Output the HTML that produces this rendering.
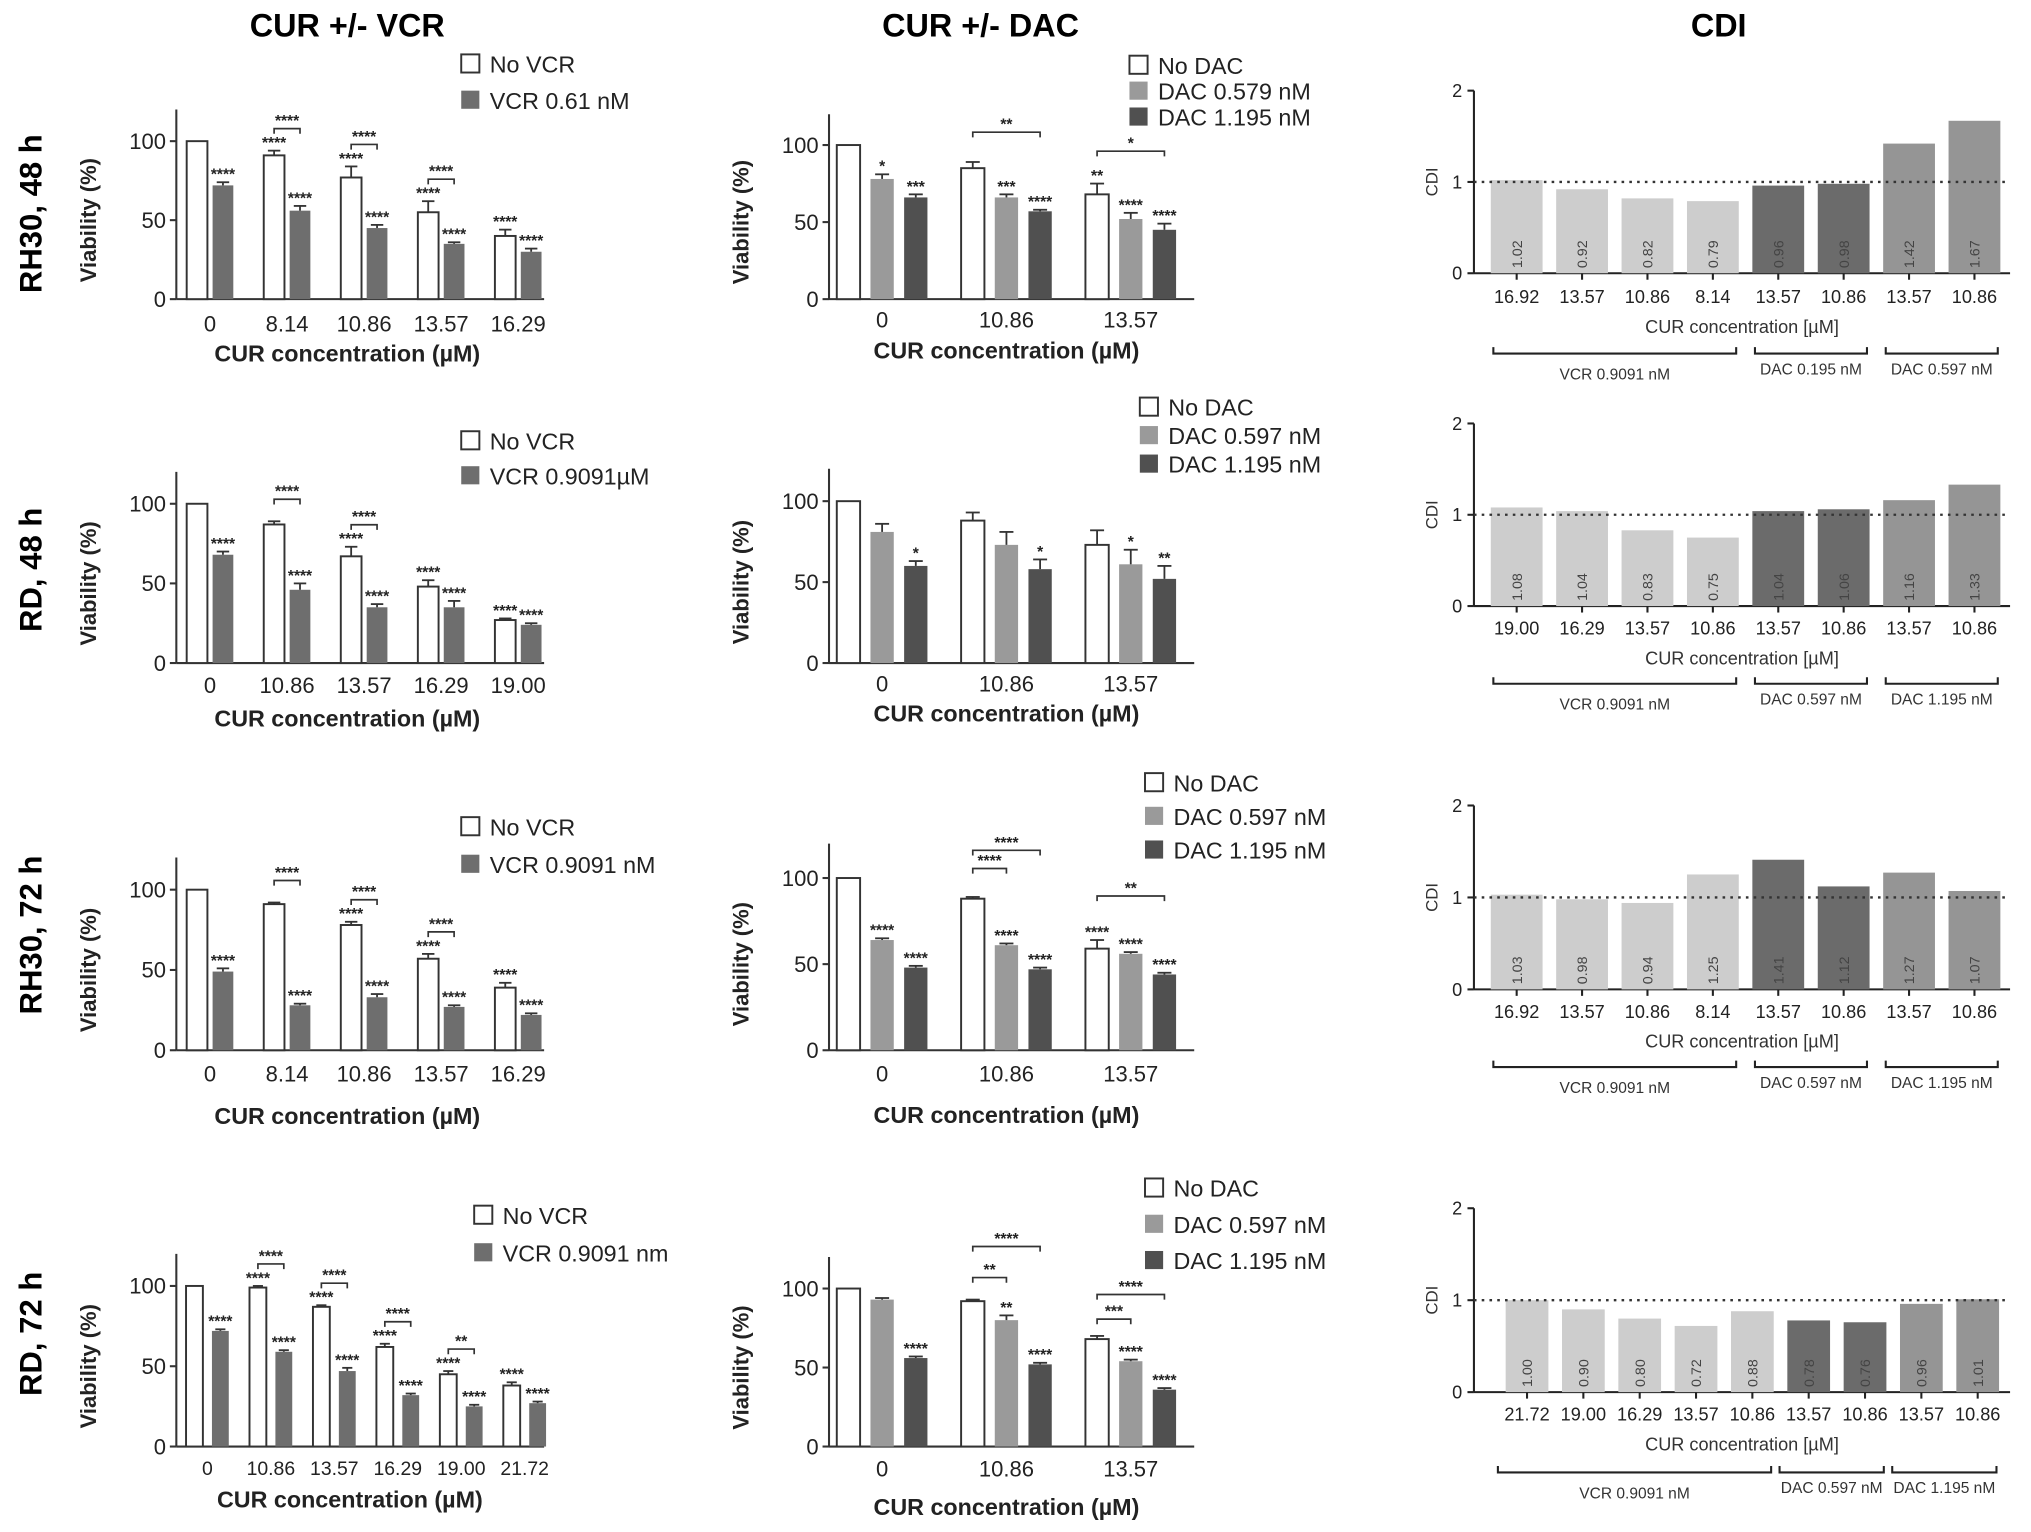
<!DOCTYPE html>
<html><head><meta charset="utf-8">
<style>
html,body{margin:0;padding:0;background:#fff;}
svg{display:block;font-family:"Liberation Sans",Arial,sans-serif;}
</style></head>
<body>
<svg id="fig" width="2031" height="1532" viewBox="0 0 1568 1183" xmlns="http://www.w3.org/2000/svg">
<text x="268" y="28" font-size="25" font-weight="bold" text-anchor="middle">CUR +/- VCR</text>
<text x="757" y="28" font-size="25" font-weight="bold" text-anchor="middle">CUR +/- DAC</text>
<text x="1327" y="28" font-size="25" font-weight="bold" text-anchor="middle">CDI</text>
<text transform="translate(32,165) rotate(-90)" font-size="24" font-weight="bold" text-anchor="middle">RH30, 48 h</text>
<text transform="translate(32,440) rotate(-90)" font-size="24" font-weight="bold" text-anchor="middle">RD, 48 h</text>
<text transform="translate(32,722) rotate(-90)" font-size="24" font-weight="bold" text-anchor="middle">RH30, 72 h</text>
<text transform="translate(32,1030) rotate(-90)" font-size="24" font-weight="bold" text-anchor="middle">RD, 72 h</text>
</svg>
<script>
// ---------- data ----------
const a1Cats=["0","8.14","10.86","13.57","16.29"];
const a1White=[100,91,77,55,40];const a1WhiteErr=[0,3,7,7,4];const a1WhiteStars=["","****","****","****","****"];
const a1Grey=[72,56,45,35,30];const a1GreyErr=[2,3,2,1,2];const a1GreyStars=["****","****","****","****","****"];
const a1Brackets=["","****","****","****",""];
const a2Cats=["0","10.86","13.57","16.29","19.00"];
const a2White=[100,87,67,48,27];const a2WhiteErr=[0,2,6,4,1];const a2WhiteStars=["","","****","****","****"];
const a2Grey=[68,46,35,35,24];const a2GreyErr=[2,4,2,4,1];const a2GreyStars=["****","****","****","****","****"];
const a2Brackets=["","****","****","",""];
const a3Cats=["0","8.14","10.86","13.57","16.29"];
const a3White=[100,91,78,57,39];const a3WhiteErr=[0,1,2,3,3];const a3WhiteStars=["","","****","****","****"];
const a3Grey=[49,28,33,27,22];const a3GreyErr=[2,1,2,1,1];const a3GreyStars=["****","****","****","****","****"];
const a3Brackets=["","****","****","****",""];
const a4Cats=["0","10.86","13.57","16.29","19.00","21.72"];
const a4White=[100,99,87,62,45,38];const a4WhiteErr=[0,1,1,2,2,2];const a4WhiteStars=["","****","****","****","****","****"];
const a4Grey=[72,59,47,32,25,27];const a4GreyErr=[1,1,2,1,1,1];const a4GreyStars=["****","****","****","****","****","****"];
const a4Brackets=["","****","****","****","**",""];
const bCats=["0","10.86","13.57"];
const b1White=[100,85,68];const b1WhiteErr=[0,4,7];const b1WhiteStars=["","","**"];
const b1Grey=[78,66,52];const b1GreyErr=[3,2,4];const b1GreyStars=["*","***","****"];
const b1Dark=[66,57,45];const b1DarkErr=[2,1,4];const b1DarkStars=["***","****","****"];
const b2White=[100,88,73];const b2WhiteErr=[0,5,9];const b2WhiteStars=["","",""];
const b2Grey=[81,73,61];const b2GreyErr=[5,8,9];const b2GreyStars=["","","*"];
const b2Dark=[60,58,52];const b2DarkErr=[3,6,8];const b2DarkStars=["*","*","**"];
const b3White=[100,88,59];const b3WhiteErr=[0,1,5];const b3WhiteStars=["","","****"];
const b3Grey=[64,61,56];const b3GreyErr=[1,1,1];const b3GreyStars=["****","****","****"];
const b3Dark=[48,47,44];const b3DarkErr=[1,1,1];const b3DarkStars=["****","****","****"];
const b4White=[100,92,68];const b4WhiteErr=[0,1,2];const b4WhiteStars=["","",""];
const b4Grey=[93,80,54];const b4GreyErr=[1,3,1];const b4GreyStars=["","**","****"];
const b4Dark=[56,52,36];const b4DarkErr=[1,1,1];const b4DarkStars=["****","****","****"];
const c1Cats=["16.92","13.57","10.86","8.14","13.57","10.86","13.57","10.86"];
const c1Vals=[1.02,0.92,0.82,0.79,0.96,0.98,1.42,1.67];
const c1Groups=["VCR 0.9091 nM","DAC 0.195 nM","DAC 0.597 nM"];
const c2Cats=["19.00","16.29","13.57","10.86","13.57","10.86","13.57","10.86"];
const c2Vals=[1.08,1.04,0.83,0.75,1.04,1.06,1.16,1.33];
const c2Groups=["VCR 0.9091 nM","DAC 0.597 nM","DAC 1.195 nM"];
const c3Cats=["16.92","13.57","10.86","8.14","13.57","10.86","13.57","10.86"];
const c3Vals=[1.03,0.98,0.94,1.25,1.41,1.12,1.27,1.07];
const c3Groups=["VCR 0.9091 nM","DAC 0.597 nM","DAC 1.195 nM"];
const c4Cats=["21.72","19.00","16.29","13.57","10.86","13.57","10.86","13.57","10.86"];
const c4Vals=[1.00,0.90,0.80,0.72,0.88,0.78,0.76,0.96,1.01];
const c4Groups=["VCR 0.9091 nM","DAC 0.597 nM","DAC 1.195 nM"];

// ---------- drawing ----------
const svg=document.getElementById('fig');
const NS='http://www.w3.org/2000/svg';
function mk(tag,attrs,parent,txt){const e=document.createElementNS(NS,tag);for(const k in attrs)e.setAttribute(k,attrs[k]);if(txt!==undefined)e.textContent=txt;(parent||svg).appendChild(e);return e;}
const WHITE='#ffffff',GREY='#6e6e6e',LGREY='#9a9a9a',DARK='#505050';

function barPanel(p){
  const g=mk('g',{});
  
  
  const y=v=>p.y0-(p.y0-p.y100)*v/100;
  const n=p.series.length;
  const cx=i=>p.cx0+i*p.step;
  const off=j=>(j-(n-1)/2)*(p.bw+p.gap);
  const ya=mk('line',{x1:p.x0,y1:y(120),x2:p.x0,y2:p.y0,stroke:'#333','stroke-width':1.6},g);
  
  const xa=mk('line',{x1:p.x0,y1:p.y0,x2:p.xEnd,y2:p.y0,stroke:'#333','stroke-width':1.6},g);
  
  [0,50,100].forEach(t=>{
    mk('line',{x1:p.x0-5,y1:y(t),x2:p.x0,y2:y(t),stroke:'#333','stroke-width':1.6},g);
    const tl=mk('text',{x:p.x0-8,y:y(t)+6,'font-size':17,'text-anchor':'end',fill:'#222'},g,String(t));
    
  });
  const yl=mk('text',{transform:`translate(${p.x0-62},${(p.y0+y(100))/2}) rotate(-90)`,'font-size':17,'font-weight':'bold','text-anchor':'middle',fill:'#222'},g,'Viability (%)');
  
  p.cats.forEach((c,i)=>{
    const t=mk('text',{x:cx(i),y:p.labelY,'font-size':p.tickFs||17,'text-anchor':'middle',fill:'#222'},g,c);
    
  });
  const xt=mk('text',{x:p.titleX,y:p.titleY,'font-size':18,'font-weight':'bold','text-anchor':'middle',fill:'#222'},g,'CUR concentration (µM)');
  
  p.series.forEach((s,j)=>{
    s.vals.forEach((v,i)=>{
      const x=cx(i)+off(j)-p.bw/2;
      const r=mk('rect',{x:x,y:y(v),width:p.bw,height:p.y0-y(v),fill:s.fill,stroke:s.fill===WHITE?'#333':'none','stroke-width':1.5},g);
      
      const e=s.err[i];
      if(e>0){
        const xm=x+p.bw/2;
        mk('line',{x1:xm,y1:y(v),x2:xm,y2:y(v+e),stroke:'#333','stroke-width':1.4},g);
        mk('line',{x1:xm-p.bw*0.3,y1:y(v+e),x2:xm+p.bw*0.3,y2:y(v+e),stroke:'#333','stroke-width':1.4},g);
      }
      if(s.stars[i]){
        const st=mk('text',{x:x+p.bw/2,y:y(v+e)-2,'font-size':12,'font-weight':'bold','text-anchor':'middle',fill:'#222'},g,s.stars[i]);
        
      }
    });
  });
  (p.brackets||[]).forEach(b=>{
    const [i,a,c,lab,dy]=b;
    const s0=p.series[a];
    const top=y(s0.vals[i]+s0.err[i]);
    const by=top-dy;
    const x1=cx(i)+off(a),x2=cx(i)+off(c);
    const br=mk('path',{d:`M${x1},${by+4}V${by}H${x2}V${by+4}`,fill:'none',stroke:'#333','stroke-width':1.3},g);
    
    mk('text',{x:(x1+x2)/2,y:by-2,'font-size':12,'font-weight':'bold','text-anchor':'middle',fill:'#222'},g,lab);
  });
  p.legend.forEach((L,k)=>{
    const ly=p.legY+k*p.legStep;
    const r=mk('rect',{x:p.legX,y:ly-14,width:14,height:14,fill:L[1],stroke:L[1]===WHITE?'#333':'none','stroke-width':1.5},g);
    
    const t=mk('text',{x:p.legX+22,y:ly,'font-size':18,fill:'#222'},g,L[0]);
    
  });
}

function vcrPanel(name,cats,w,we,ws,gr,ge,gs,br,y0,y100,labelY,titleY,legY,legStep,legend,six){
  const brackets=[];br.forEach((l,i)=>{if(l)brackets.push([i,0,1,l,17]);});
  barPanel({name,x0:136,xEnd:420,y0,y100,cx0:six?160:162,step:six?49:59.5,bw:six?13:16,gap:six?7:4,
    cats,labelY,titleY,titleX:six?270:268,tickFs:six?15:17,
    series:[{key:'no-vcr',vals:w,err:we,stars:ws,fill:WHITE},{key:'vcr',vals:gr,err:ge,stars:gs,fill:GREY}],
    brackets,legX:six?366:356,legY,legStep,legend:[[legend[0],WHITE],[legend[1],GREY]]});
}
vcrPanel('panel-rh30-48h-vcr',a1Cats,a1White,a1WhiteErr,a1WhiteStars,a1Grey,a1GreyErr,a1GreyStars,a1Brackets,231,109,256,279,56,28,['No VCR','VCR 0.61 nM']);
vcrPanel('panel-rd-48h-vcr',a2Cats,a2White,a2WhiteErr,a2WhiteStars,a2Grey,a2GreyErr,a2GreyStars,a2Brackets,512,389,535,561,347,27,['No VCR','VCR 0.9091µM']);
vcrPanel('panel-rh30-72h-vcr',a3Cats,a3White,a3WhiteErr,a3WhiteStars,a3Grey,a3GreyErr,a3GreyStars,a3Brackets,811,687,835,868,645,29,['No VCR','VCR 0.9091 nM']);
vcrPanel('panel-rd-72h-vcr',a4Cats,a4White,a4WhiteErr,a4WhiteStars,a4Grey,a4GreyErr,a4GreyStars,a4Brackets,1117,993,1139,1164,945,29,['No VCR','VCR 0.9091 nm'],true);

function dacPanel(name,w,we,ws,gr,ge,gs,dk,de,ds,brackets,y0,y100,labelY,titleY,legX,legY,legStep,legend){
  barPanel({name,x0:640,xEnd:922,y0,y100,cx0:681,step:96,bw:18,gap:8,cats:bCats,labelY,titleY,titleX:777,
    series:[{key:'no-dac',vals:w,err:we,stars:ws,fill:WHITE},{key:'dac-low',vals:gr,err:ge,stars:gs,fill:LGREY},{key:'dac-high',vals:dk,err:de,stars:ds,fill:DARK}],
    brackets,legX,legY,legStep,legend:[[legend[0],WHITE],[legend[1],LGREY],[legend[2],DARK]]});
}
dacPanel('panel-rh30-48h-dac',b1White,b1WhiteErr,b1WhiteStars,b1Grey,b1GreyErr,b1GreyStars,b1Dark,b1DarkErr,b1DarkStars,[[1,0,2,'**',23],[2,0,2,'*',25]],231,112,253,277,872,57,20,['No DAC','DAC 0.579 nM','DAC 1.195 nM']);
dacPanel('panel-rd-48h-dac',b2White,b2WhiteErr,b2WhiteStars,b2Grey,b2GreyErr,b2GreyStars,b2Dark,b2DarkErr,b2DarkStars,[],512,387,534,557,880,321,22,['No DAC','DAC 0.597 nM','DAC 1.195 nM']);
dacPanel('panel-rh30-72h-dac',b3White,b3WhiteErr,b3WhiteStars,b3Grey,b3GreyErr,b3GreyStars,b3Dark,b3DarkErr,b3DarkStars,[[1,0,1,'****',22],[1,0,2,'****',36],[2,0,2,'**',34]],811,678,835,867,884,611,26,['No DAC','DAC 0.597 nM','DAC 1.195 nM']);
dacPanel('panel-rd-72h-dac',b4White,b4WhiteErr,b4WhiteStars,b4Grey,b4GreyErr,b4GreyStars,b4Dark,b4DarkErr,b4DarkStars,[[1,0,1,'**',17],[1,0,2,'****',41],[2,0,1,'***',13],[2,0,2,'****',32]],1117,995,1140,1170,884,924,28,['No DAC','DAC 0.597 nM','DAC 1.195 nM']);

function cdiPanel(name,cats,vals,groups,y0,y2,labelY,titleY,brY,cx0,step,bw,nV){
  const g=mk('g',{});
  
  
  const y=v=>y0-(y0-y2)*v/2;
  const x0=1138,xEnd=1552;
  const ya=mk('line',{x1:x0,y1:y(2),x2:x0,y2:y0,stroke:'#222','stroke-width':1.6},g);
  
  const xa=mk('line',{x1:x0,y1:y0,x2:xEnd,y2:y0,stroke:'#222','stroke-width':1.6},g);
  
  [0,1,2].forEach(t=>{
    mk('line',{x1:x0-5,y1:y(t),x2:x0,y2:y(t),stroke:'#222','stroke-width':1.6},g);
    const tl=mk('text',{x:x0-9,y:y(t)+5,'font-size':14,'text-anchor':'end',fill:'#222'},g,String(t));
    
  });
  const yl=mk('text',{transform:`translate(${x0-28},${y(1)}) rotate(-90)`,'font-size':13,'text-anchor':'middle',fill:'#333'},g,'CDI');
  
  vals.forEach((v,i)=>{
    const cx=cx0+i*step;
    const col=i<nV?'#cdcdcd':(i<nV+2?'#6b6b6b':'#959595');
    const r=mk('rect',{x:cx-bw/2,y:y(v),width:bw,height:y0-y(v),fill:col},g);
    
    mk('text',{transform:`translate(${cx+4},${y0-4}) rotate(-90)`,'font-size':11,fill:'#444'},g,v.toFixed(2));
    mk('line',{x1:cx,y1:y0,x2:cx,y2:y0+5,stroke:'#222','stroke-width':1.6},g);
    const t=mk('text',{x:cx,y:labelY,'font-size':14,'text-anchor':'middle',fill:'#222'},g,cats[i]);
    
  });
  const ref=mk('line',{x1:x0,y1:y(1),x2:xEnd,y2:y(1),stroke:'#333','stroke-width':1.8,'stroke-dasharray':'2,4'},g);
  
  const xt=mk('text',{x:1345,y:titleY,'font-size':14,'text-anchor':'middle',fill:'#333'},g,'CUR concentration [µM]');
  
  const spans=[[0,nV-1],[nV,nV+1],[nV+2,nV+3]];
  spans.forEach((s,k)=>{
    const a=cx0+s[0]*step-bw/2+(nV===5?-6:2),b=cx0+s[1]*step+bw/2-2;
    const br=mk('path',{d:`M${a},${brY-5}V${brY}H${b}V${brY-5}`,fill:'none',stroke:'#222','stroke-width':1.6},g);
    
    const t=mk('text',{x:(a+b)/2,y:brY+(k===0?20:16),'font-size':12,'text-anchor':'middle',fill:'#333'},g,groups[k]);
    
  });
}
cdiPanel('panel-rh30-48h-cdi',c1Cats,c1Vals,c1Groups,211,70,234,257,273,1171,50.5,40,4);
cdiPanel('panel-rd-48h-cdi',c2Cats,c2Vals,c2Groups,468,327,490,513,528,1171,50.5,40,4);
cdiPanel('panel-rh30-72h-cdi',c3Cats,c3Vals,c3Groups,764,622,786,809,824,1171,50.5,40,4);
cdiPanel('panel-rd-72h-cdi',c4Cats,c4Vals,c4Groups,1075,933,1097,1120,1137,1179,43.5,33,5);
</script>
</body></html>
